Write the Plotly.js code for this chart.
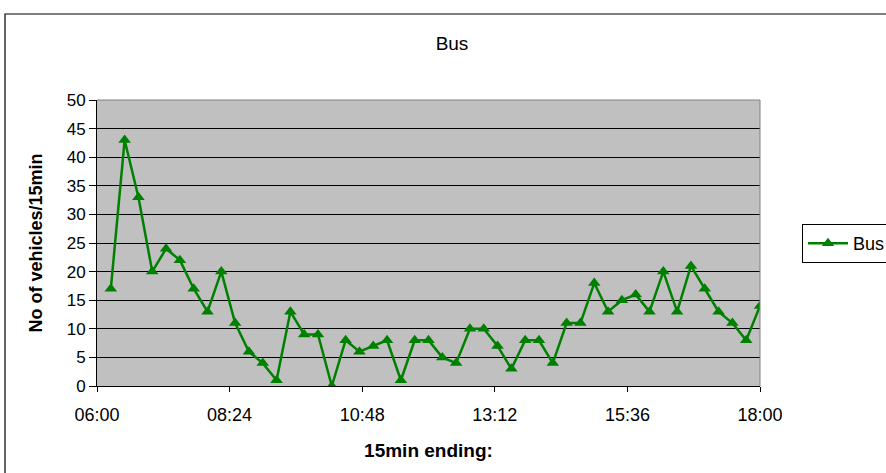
<!DOCTYPE html>
<html>
<head>
<meta charset="utf-8">
<script src="https://cdn.plot.ly/plotly-3.0.1.min.js"></script>
<style>
html,body{margin:0;padding:0;background:#fff;}
#chart{width:886px;height:473px;}
</style>
</head>
<body>
<div id="chart"></div>
<script>
// 15-minute periods (ending times)
var times = [
  "06:15","06:30","06:45","07:00","07:15","07:30","07:45","08:00",
  "08:15","08:30","08:45","09:00","09:15","09:30","09:45","10:00",
  "10:15","10:30","10:45","11:00","11:15","11:30","11:45","12:00",
  "12:15","12:30","12:45","13:00","13:15","13:30","13:45","14:00",
  "14:15","14:30","14:45","15:00","15:15","15:30","15:45","16:00",
  "16:15","16:30","16:45","17:00","17:15","17:30","17:45","18:00"
];
// Bus counts per 15 min
var busCounts = [
  17,43,33,20,24,22,17,13,
  20,11,6,4,1,13,9,9,
  0,8,6,7,8,1,8,8,
  5,4,10,10,7,3,8,8,
  4,11,11,18,13,15,16,13,
  20,13,21,17,13,11,8,14
];
var tickTimes = ["06:00","08:24","10:48","13:12","15:36","18:00"];
var yTicks = [0,5,10,15,20,25,30,35,40,45,50];

var day = "2000-01-01 ";
var xs = times.map(function(t){return day + t;});
var tickVals = tickTimes.map(function(t){return day + t;});

var FONT = "Liberation Sans, Arial, sans-serif";

var trace = {
  x: xs, y: busCounts, name: "Bus", type: "scatter", mode: "lines+markers",
  line: {color: "#008000", width: 2.5},
  marker: {symbol: "triangle-up", size: 11, color: "#008000"}
};

var layout = {
  width: 886, height: 473,
  margin: {l: 97, r: 126, t: 100, b: 87},
  paper_bgcolor: "#ffffff",
  plot_bgcolor: "#c0c0c0",
  font: {family: FONT, size: 17, color: "#000"},
  title: {text: "Bus", font: {family: FONT, size: 19, color: "#000"},
          xref: "container", yref: "container", x: 452/886, y: 1 - 43/473,
          xanchor: "center", yanchor: "middle"},
  showlegend: true,
  legend: {xref: "container", yref: "container",
           x: 802/886, y: 1 - 224/473, xanchor: "left", yanchor: "top",
           bgcolor: "#ffffff", bordercolor: "#000", borderwidth: 1,
           font: {family: FONT, size: 18}, itemwidth: 40},
  xaxis: {
    type: "date",
    range: [day + "06:00", day + "18:00"],
    tickmode: "array", tickvals: tickVals, ticktext: tickTimes,
    ticks: "outside", ticklen: 5, tickcolor: "#000", tickwidth: 1,
    ticklabelstandoff: 7,
    showgrid: false, zeroline: false,
    showline: true, linecolor: "#000", linewidth: 1,
    tickfont: {family: FONT, size: 18},
    title: {text: "<b>15min ending:</b>", font: {family: FONT, size: 19}, standoff: 20}
  },
  yaxis: {
    range: [0, 50],
    tickmode: "array", tickvals: yTicks,
    ticks: "outside", ticklen: 7, tickcolor: "#000", tickwidth: 1,
    showgrid: true, gridcolor: "#000", gridwidth: 1,
    zeroline: false,
    showline: true, linecolor: "#000", linewidth: 1,
    tickfont: {family: FONT, size: 17},
    title: {text: "<b>No of vehicles/15min</b>", font: {family: FONT, size: 18}, standoff: 19}
  },
  shapes: [
    {type: "rect", xref: "paper", yref: "paper",
     x0: (5-97)/663, x1: (900-97)/663, y0: (386-480)/286, y1: (386-14)/286,
     line: {color: "#000", width: 1.2}, fillcolor: "rgba(0,0,0,0)", layer: "below"},
    {type: "line", xref: "paper", yref: "paper", x0: 0, x1: 1, y0: 1, y1: 1,
     line: {color: "#808080", width: 1}, layer: "above"},
    {type: "line", xref: "paper", yref: "paper", x0: 1, x1: 1, y0: 0, y1: 1,
     line: {color: "#808080", width: 1}, layer: "above"}
  ]
};

Plotly.newPlot("chart", [trace], layout, {displayModeBar: false, staticPlot: true});
</script>
</body>
</html>
